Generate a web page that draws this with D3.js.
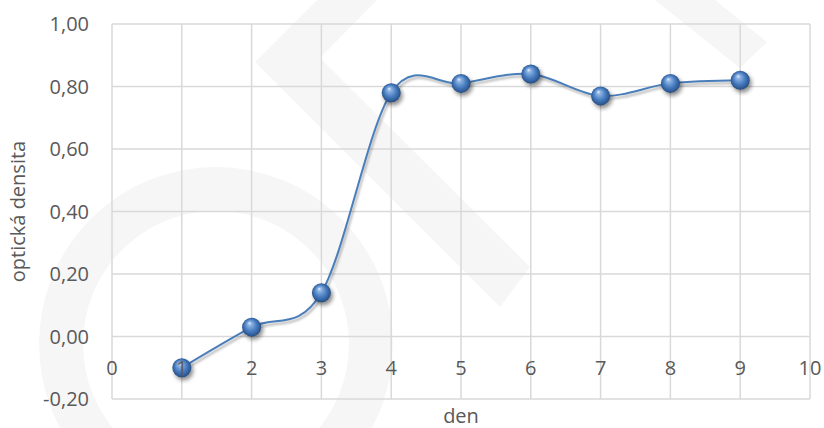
<!DOCTYPE html>
<html><head><meta charset="utf-8">
<script src="https://cdn.jsdelivr.net/npm/d3@7"></script>
<style>
html,body{margin:0;padding:0;background:#fff;}
svg{display:block;}
text{font-family:"Open Sans",sans-serif;fill:#595959;}
</style></head>
<body><svg id="c" width="824" height="428"></svg>
<script>
const days = [1,2,3,4,5,6,7,8,9];
const density = [-0.10,0.03,0.14,0.78,0.81,0.84,0.77,0.81,0.82];
const xTicks = [0,1,2,3,4,5,6,7,8,9,10];
const yTicks = [-0.2,0,0.2,0.4,0.6,0.8,1.0];
const xTitle = "den";
const yTitle = "optická densita";

const svg = d3.select("#c");
const x = d3.scaleLinear().domain([0,10]).range([112,810]);
const y = d3.scaleLinear().domain([-0.2,1.0]).range([399,24]);
const fmt = v => d3.format(".2f")(v).replace(".",",").replace("−","-");

// defs
const defs = svg.append("defs");
const g = defs.append("radialGradient").attr("id","ball").attr("cx","50%").attr("cy","50%").attr("r","55%").attr("fx","38%").attr("fy","28%");
[["0%","#e6f0fb"],["18%","#8fb4e3"],["55%","#4a7fc2"],["85%","#2d5a96"],["100%","#1d3d68"]].forEach(s=>g.append("stop").attr("offset",s[0]).attr("stop-color",s[1]));
const f = defs.append("filter").attr("id","sh").attr("x","-50%").attr("y","-50%").attr("width","200%").attr("height","200%");
f.append("feGaussianBlur").attr("stdDeviation",2);
const fl = defs.append("filter").attr("id","shl").attr("x","-10%").attr("y","-10%").attr("width","120%").attr("height","120%");
fl.append("feGaussianBlur").attr("stdDeviation",1.2);

// watermark
const wm = svg.append("g").attr("fill","#f6f6f6");
wm.append("path").attr("fill-rule","evenodd")
  .attr("d", d3.arc()({innerRadius:133,outerRadius:177,startAngle:0,endAngle:2*Math.PI}))
  .attr("transform","translate(216,344)");
wm.append("polygon").attr("points","317,0 377,0 320,58 530,267 500,307 255,62");
wm.append("polygon").attr("points","655,0 715,0 767,42 740,68");

// gridlines
const grid = svg.append("g").attr("stroke","#d9d9d9").attr("stroke-width",1.5);
grid.selectAll(".h").data(yTicks).join("line")
  .attr("x1",x(0)).attr("x2",x(10)).attr("y1",d=>y(d)).attr("y2",d=>y(d));
grid.selectAll(".v").data(xTicks).join("line")
  .attr("x1",d=>x(d)).attr("x2",d=>x(d)).attr("y1",y(1)).attr("y2",y(-0.2));

// line
const pts = days.map((d,i)=>[x(d),y(density[i])]);
const line = d3.line().curve(d3.curveCardinal.tension(0));
svg.append("path").attr("d",line(pts)).attr("fill","none").attr("stroke","#000").attr("stroke-opacity",0.25)
  .attr("stroke-width",2.5).attr("filter","url(#shl)").attr("transform","translate(1.5,2.5)");
svg.append("path").attr("d",line(pts)).attr("fill","none").attr("stroke","#4a7ebb").attr("stroke-width",2);

// markers
const mk = svg.append("g");
mk.selectAll(".s").data(pts).join("circle").attr("cx",d=>d[0]+2).attr("cy",d=>d[1]+3).attr("r",9.5)
  .attr("fill","#000").attr("opacity",0.45).attr("filter","url(#sh)");
mk.selectAll(".b").data(pts).join("circle").attr("cx",d=>d[0]).attr("cy",d=>d[1]).attr("r",9.5)
  .attr("fill","url(#ball)");

// y labels
svg.append("g").selectAll("text").data(yTicks).join("text")
  .attr("x",89).attr("y",d=>y(d)).attr("dy","0.36em").attr("text-anchor","end")
  .attr("font-size",20).text(d=>fmt(d));
// x labels (drawn over the markers, as in the reference)
svg.append("g").selectAll("text").data(xTicks).join("text")
  .attr("x",d=>x(d)).attr("y",y(0)+31).attr("dy","0.36em").attr("text-anchor","middle")
  .attr("font-size",20).text(d=>d);
// titles
svg.append("text").attr("x",(x(0)+x(10))/2).attr("y",423).attr("text-anchor","middle").attr("font-size",20).text(xTitle);
svg.append("text").attr("transform",`translate(25,${(y(1)+y(-0.2))/2}) rotate(-90)`).attr("text-anchor","middle").attr("font-size",20).text(yTitle);
</script></body></html>
